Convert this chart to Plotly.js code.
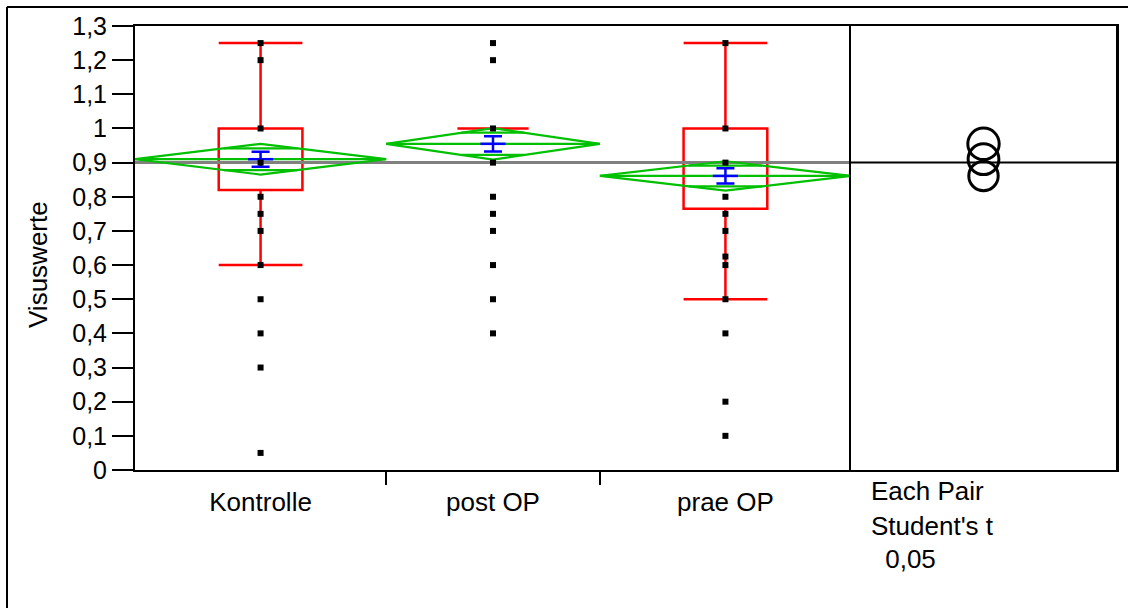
<!DOCTYPE html>
<html>
<head>
<meta charset="utf-8">
<script src="https://cdn.plot.ly/plotly-3.0.1.min.js"></script>
<style>html,body{margin:0;padding:0;background:#fff;}#chart{width:1128px;height:608px;}</style>
</head>
<body>
<div id="chart"></div>
<script>
// ---- data ----
const categories = ['Kontrolle', 'post OP', 'prae OP'];
const groupN = [47, 40, 47];
const pointsKontrolle = [1.25, 1.2, 1.0, 0.9, 0.8, 0.75, 0.7, 0.6, 0.5, 0.4, 0.3, 0.05];
const pointsPostOP = [1.25, 1.2, 1.0, 0.9, 0.8, 0.75, 0.7, 0.6, 0.5, 0.4];
const pointsPraeOP = [1.25, 1.0, 0.9, 0.8, 0.75, 0.7, 0.625, 0.6, 0.5, 0.4, 0.2, 0.1];
const q1 = [0.82, 1.0, 0.765];
const median = [0.9, 1.0, 0.9];
const q3 = [1.0, 1.0, 1.0];
const lowerWhisker = [0.6, 1.0, 0.5];
const upperWhisker = [1.25, 1.0, 1.25];
const means = [0.91, 0.955, 0.861];
const ciHalf = [0.045, 0.046, 0.043];
const stdErr = [0.022, 0.0225, 0.0225];
const grandMean = 0.9;
const yTicks = [0, 0.1, 0.2, 0.3, 0.4, 0.5, 0.6, 0.7, 0.8, 0.9, 1.0, 1.1, 1.2, 1.3];
const yTitle = 'Visuswerte';
const panelLabel = ['Each Pair', "Student's t", '\u00a00,05'];

// ---- layout constants ----
const W = 1128, H = 608;
const M = {l: 135, r: 12, t: 26, b: 138};
const plotW = W - M.l - M.r, plotH = H - M.t - M.b;
const mainFrac = 716 / plotW;
const yMax = 1.3;
const pxPerUnit = plotH / yMax;
const FONT = '"Liberation Sans", Arial, Helvetica, sans-serif';
const GREEN = '#00c000', RED = '#ff0000', BLUE = '#0000ff';

// derived positions from group sizes
const total = groupN.reduce((a, b) => a + b, 0);
const starts = [], centers = [];
let acc = 0;
groupN.forEach(n => { starts.push(acc); centers.push(acc + n / 2); acc += n; });
const bounds = starts.slice(1);
const groupPoints = [pointsKontrolle, pointsPostOP, pointsPraeOP];

const traces = [];

// boxes
categories.forEach((c, i) => {
  traces.push({
    type: 'box', x: [centers[i]], q1: [q1[i]], median: [median[i]], q3: [q3[i]],
    lowerfence: [lowerWhisker[i]], upperfence: [upperWhisker[i]],
    width: groupN[i] / 3, whiskerwidth: 1, boxpoints: false,
    line: {color: RED, width: 2.5}, fillcolor: 'rgba(0,0,0,0)',
    hoverinfo: 'skip', xaxis: 'x', yaxis: 'y'
  });
});

// grand mean line (main)
traces.push({
  type: 'scatter', mode: 'lines', x: [0, total], y: [grandMean, grandMean],
  line: {color: '#808080', width: 3}, hoverinfo: 'skip', xaxis: 'x', yaxis: 'y'
});

// means diamonds with overlap marks
const dx = [], dy = [];
categories.forEach((c, i) => {
  const x0 = starts[i], x1 = starts[i] + groupN[i], xc = centers[i];
  const m = means[i], h = ciHalf[i];
  dx.push(x0, xc, x1, xc, x0, null); dy.push(m, m + h, m, m - h, m, null);
  dx.push(x0, x1, null); dy.push(m, m, null);
  const ho = h / Math.SQRT2, hw = (groupN[i] / 2) * (1 - 1 / Math.SQRT2);
  dx.push(xc - hw, xc + hw, null); dy.push(m + ho, m + ho, null);
  dx.push(xc - hw, xc + hw, null); dy.push(m - ho, m - ho, null);
});
traces.push({
  type: 'scatter', mode: 'lines', x: dx, y: dy,
  line: {color: GREEN, width: 2.2}, hoverinfo: 'skip', xaxis: 'x', yaxis: 'y'
});

// mean error bars
traces.push({
  type: 'scatter', mode: 'markers', x: centers, y: means,
  marker: {symbol: 'line-ew-open', size: 18, color: BLUE, line: {color: BLUE, width: 2.5}},
  error_y: {type: 'data', array: stdErr, color: BLUE, thickness: 2.5, width: 9},
  hoverinfo: 'skip', xaxis: 'x', yaxis: 'y'
});

// data points
const px = [], py = [];
groupPoints.forEach((arr, i) => arr.forEach(v => { px.push(centers[i]); py.push(v); }));
traces.push({
  type: 'scatter', mode: 'markers', x: px, y: py,
  marker: {symbol: 'square', size: 6, color: '#000'}, hoverinfo: 'skip', xaxis: 'x', yaxis: 'y'
});

// right panel: grand mean line and comparison circles
traces.push({
  type: 'scatter', mode: 'lines', x: [0, 1], y: [grandMean, grandMean],
  line: {color: '#000', width: 2}, hoverinfo: 'skip', xaxis: 'x2', yaxis: 'y2'
});
traces.push({
  type: 'scatter', mode: 'markers', x: means.map(() => 0.5), y: means,
  marker: {symbol: 'circle-open', size: ciHalf.map(r => 2 * r * pxPerUnit), color: '#000', opacity: 1, line: {color: '#000', width: 3}},
  hoverinfo: 'skip', xaxis: 'x2', yaxis: 'y2'
});

const toPaperX = p => (p - M.l) / plotW;
const toPaperY = p => (H - M.b - p) / plotH;
const lineCenters = [491, 526, 559];
const lineXs = [870, 870, 877];

const annotations = panelLabel.map((t, i) => ({
  text: t, xref: 'paper', yref: 'paper', x: toPaperX(lineXs[i]), y: toPaperY(lineCenters[i]),
  xanchor: 'left', yanchor: 'middle', showarrow: false, borderpad: 0,
  font: {size: 26, family: FONT, color: '#000'}
}));
annotations.push({
  text: yTitle, xref: 'paper', yref: 'paper', x: toPaperX(38), y: toPaperY(265),
  xanchor: 'center', yanchor: 'middle', textangle: -90, showarrow: false, borderpad: 0,
  font: {size: 26, family: FONT, color: '#000'}
});

const layout = {
  width: W, height: H, margin: M,
  paper_bgcolor: '#fff', plot_bgcolor: '#fff',
  showlegend: false, separators: ', ',
  font: {family: FONT, color: '#000', size: 25},
  xaxis: {
    domain: [0, mainFrac], range: [0, total], anchor: 'y',
    tickmode: 'array', tickvals: centers, ticktext: categories,
    ticks: 'outside', ticklen: 8, tickcolor: 'rgba(0,0,0,0)',
    minor: {tickmode: 'array', tickvals: bounds, ticks: 'outside', ticklen: 13, tickwidth: 2, tickcolor: '#000', showgrid: false},
    showline: true, mirror: true, linecolor: '#000', linewidth: 2,
    showgrid: false, zeroline: false, tickfont: {size: 26, family: FONT}, fixedrange: true
  },
  xaxis2: {
    domain: [mainFrac, 1], range: [0, 1], anchor: 'y2',
    showticklabels: false, ticks: '', showline: true, mirror: true, linecolor: '#000', linewidth: 2,
    showgrid: false, zeroline: false, fixedrange: true
  },
  yaxis: {
    range: [0, yMax], anchor: 'x', tickmode: 'array', tickvals: yTicks,
    ticks: 'outside', ticklen: 21, tickwidth: 2, tickcolor: '#000',
    showline: true, mirror: false, linecolor: '#000', linewidth: 2,
    showgrid: false, zeroline: false, tickfont: {size: 25, family: FONT}, fixedrange: true
  },
  yaxis2: {
    range: [0, yMax], anchor: 'x2', matches: 'y',
    showticklabels: false, ticks: '', showline: true, mirror: true, linecolor: '#000', linewidth: 2.5,
    showgrid: false, zeroline: false, fixedrange: true
  },
  shapes: [
    {type: 'line', xref: 'paper', yref: 'paper', x0: toPaperX(7), x1: toPaperX(7), y0: toPaperY(7), y1: toPaperY(620), line: {color: '#000', width: 2}},
    {type: 'line', xref: 'paper', yref: 'paper', x0: toPaperX(7), x1: toPaperX(1140), y0: toPaperY(7), y1: toPaperY(7), line: {color: '#000', width: 2}}
  ],
  annotations: annotations
};

Plotly.newPlot('chart', traces, layout, {displayModeBar: false, staticPlot: true});
</script>
</body>
</html>
